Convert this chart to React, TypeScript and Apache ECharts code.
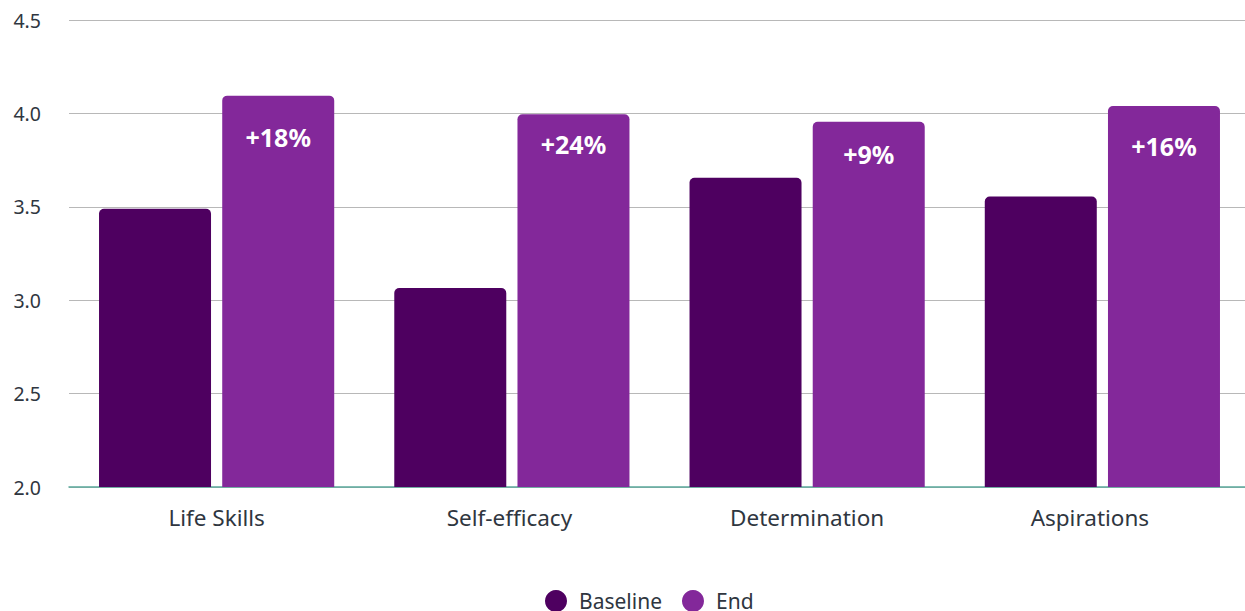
import React, { useEffect, useRef } from "react";
import * as echarts from "echarts";

const categories = ["Life Skills", "Self-efficacy", "Determination", "Aspirations"];
const baselineValues = [3.49, 3.065, 3.655, 3.555];
const endValues = [4.095, 3.995, 3.955, 4.04];
const endLabels = ["+18%", "+24%", "+9%", "+16%"];
const yMin = 2.0;
const yMax = 4.5;
const yInterval = 0.5;

// label placement (style, not data)
const endLabelDistance = [29, 17, 20, 28];

export default function App() {
  const ref = useRef<HTMLDivElement>(null);
  useEffect(() => {
    if (!ref.current) return;
    const chart = echarts.init(ref.current, null, { renderer: "svg" });
    const font = "'Noto Sans', sans-serif";
    const labelColor = "#2f3640";
    chart.setOption({
      animation: false,
      textStyle: { fontFamily: font },
      grid: { left: 69, right: 0, top: 20, bottom: 124, containLabel: false },
      legend: {
        data: ["Baseline", "End"],
        bottom: -6,
        left: 540,
        icon: "circle",
        itemWidth: 22,
        itemHeight: 22,
        itemGap: 20,
        textStyle: {
          fontSize: 21,
          color: labelColor,
          fontFamily: font,
          padding: [0, 0, 0, 7],
        },
      },
      xAxis: {
        type: "category",
        data: categories,
        axisLine: { show: true, lineStyle: { color: "#5aa89b", width: 1.5 } },
        axisTick: { show: false },
        axisLabel: {
          fontSize: 22.5,
          color: labelColor,
          margin: 19,
          fontFamily: font,
          formatter: (v: string, i: number) =>
            i === categories.length - 1 ? `{shift|${v}}` : i === 1 ? `{shiftS|${v}}` : v,
          rich: {
            shift: { fontSize: 22.5, color: labelColor, fontFamily: font, padding: [0, 25, 0, 0] },
            shiftS: { fontSize: 22.5, color: labelColor, fontFamily: font, padding: [0, 5, 0, 0] },
          },
        },
      },
      yAxis: {
        type: "value",
        min: yMin,
        max: yMax,
        interval: yInterval,
        axisLine: { show: false },
        axisTick: { show: false },
        splitLine: { lineStyle: { color: "#b8b8b8", width: 1 } },
        axisLabel: {
          fontSize: 19.5,
          color: labelColor,
          margin: 28,
          fontFamily: font,
          formatter: (v: number) => v.toFixed(1),
        },
      },
      series: [
        {
          name: "Baseline",
          type: "bar",
          data: baselineValues,
          barWidth: 112,
          barGap: "10%",
          itemStyle: { color: "#4e0060", borderRadius: [5, 5, 0, 0] },
        },
        {
          name: "End",
          type: "bar",
          data: endValues.map((v, i) => ({
            value: v,
            label: { distance: endLabelDistance[i] },
          })),
          barWidth: 112,
          itemStyle: { color: "#83289a", borderRadius: [5, 5, 0, 0] },
          label: {
            show: true,
            position: "insideTop",
            distance: 28,
            color: "#ffffff",
            fontSize: 25,
            fontWeight: "bold",
            fontFamily: font,
            formatter: (p: any) => endLabels[p.dataIndex],
          },
        },
      ],
    });
    return () => chart.dispose();
  }, []);
  return (
    <div style={{ position: "fixed", left: 0, top: 0, width: 1245, height: 611, overflow: "hidden", background: "#fff" }}>
      <div ref={ref} style={{ position: "absolute", left: 0, top: 0, width: 1250, height: 611 }} />
    </div>
  );
}
